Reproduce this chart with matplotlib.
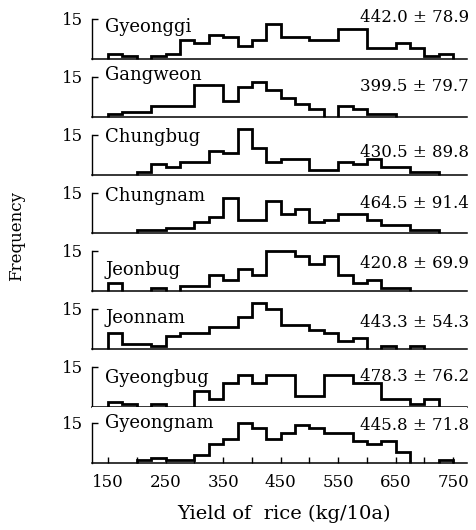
import numpy as np
import matplotlib
matplotlib.use("Agg")
import matplotlib.pyplot as plt

plt.rcParams['font.family'] = ['DejaVu Serif']

# ---- data ----
regions = ["Gyeonggi", "Gangweon", "Chungbug", "Chungnam",
           "Jeonbug", "Jeonnam", "Gyeongbug", "Gyeongnam"]
means = [442.0, 399.5, 430.5, 464.5, 420.8, 443.3, 478.3, 445.8]
sds = [78.9, 79.7, 89.8, 91.4, 69.9, 54.3, 76.2, 71.8]

bin_edges = [150, 175, 200, 225, 250, 275, 300, 325, 350, 375, 400, 425, 450,
             475, 500, 525, 550, 575, 600, 625, 650, 675, 700, 725, 750, 775]

gyeonggi = [2, 1, 0, 1, 2, 7, 6, 9, 8, 5, 7, 13, 8, 8, 7, 7, 11, 11, 4, 4, 6, 4, 1, 2, 0]
gangweon = [1, 2, 2, 4, 4, 4, 12, 12, 6, 11, 13, 10, 7, 5, 3, 0, 4, 3, 1, 1, 0, 0, 0, 0, 0]
chungbug = [0, 0, 1, 4, 3, 5, 5, 9, 8, 17, 10, 5, 6, 6, 2, 2, 5, 4, 6, 3, 3, 1, 1, 0, 0]
chungnam = [0, 0, 1, 1, 2, 2, 4, 6, 13, 5, 5, 12, 7, 9, 4, 5, 7, 7, 5, 3, 3, 1, 1, 0, 0]
jeonbug = [3, 0, 0, 1, 0, 2, 2, 6, 4, 8, 6, 15, 15, 13, 10, 13, 6, 3, 4, 1, 1, 0, 0, 0, 0]
jeonnam = [6, 2, 2, 1, 5, 6, 6, 8, 8, 12, 17, 15, 9, 9, 7, 6, 3, 4, 0, 1, 0, 1, 0, 0, 0]
gyeongbug = [2, 1, 0, 1, 0, 0, 6, 3, 9, 12, 9, 12, 12, 4, 4, 12, 12, 9, 9, 3, 3, 1, 3, 0, 0]
gyeongnam = [0, 0, 1, 2, 1, 1, 3, 7, 9, 15, 13, 9, 11, 14, 13, 11, 11, 8, 7, 8, 4, 0, 0, 1, 0]

series = [gyeonggi, gangweon, chungbug, chungnam, jeonbug, jeonnam, gyeongbug, gyeongnam]

major_ticks = [150, 250, 350, 450, 550, 650, 750]
minor_ticks = [200, 300, 400, 500, 600, 700]

# ---- layout (pixels) ----
W, H = 476, 530
fig = plt.figure(figsize=(W / 100, H / 100), dpi=100)

base_y = [59, 117, 175, 233, 291, 349, 407, 463]      # panel baselines from top
label_off = [27, 37, 33, 32, 16, 26, 24, 35]           # region text baseline above panel baseline
stat_off = [37, 26, 18, 25, 23, 22, 26, 33]
x_left, x_right = 92, 467
slot_h = 56
px_per_count = 2.7

for i, (name, counts) in enumerate(zip(regions, series)):
    yb = base_y[i]
    ax = fig.add_axes([x_left / W, 1 - yb / H, (x_right - x_left) / W, slot_h / H])
    ax.set_xlim(122, 774)
    ax.set_ylim(0, slot_h / px_per_count)
    for s in ['top', 'right']:
        ax.spines[s].set_visible(False)
    ax.spines['left'].set_bounds(0, 15)
    ax.spines['left'].set_linewidth(1.0)
    ax.spines['bottom'].set_linewidth(1.1)
    ax.set_yticks([15])
    ax.set_yticklabels(['15'])
    ax.tick_params(axis='y', direction='in', length=4, width=1.0, pad=6.5, labelsize=12)

    # draw contiguous non-zero runs as step outlines
    c = np.asarray(counts)
    n = len(c)
    j = 0
    while j < n:
        if c[j] > 0:
            k = j
            while k < n and c[k] > 0:
                k += 1
            ax.stairs(c[j:k], bin_edges[j:k + 1], baseline=0, color='black',
                      linewidth=2.0, joinstyle='miter', clip_on=False)
            j = k
        else:
            j += 1

    if i == len(regions) - 1:
        ax.set_xticks(major_ticks)
        ax.set_xticks(minor_ticks, minor=True)
        ax.set_xticklabels([str(t) for t in major_ticks])
        ax.tick_params(axis='x', which='both', direction='in', length=4, width=1.0,
                       pad=8, labelsize=12)
    else:
        ax.set_xticks([])

    fig.text(105 / W, 1 - (yb - label_off[i]) / H, name, fontsize=13,
             ha='left', va='baseline')
    fig.text(469 / W, 1 - (yb - stat_off[i]) / H,
             f"{means[i]:.1f} \u00b1 {sds[i]:.1f}", fontsize=12,
             ha='right', va='baseline')

fig.text(17 / W, 1 - 236 / H, "Frequency", rotation=90, fontsize=12,
         ha='center', va='center')
fig.text(284 / W, 1 - 514 / H, "Yield of  rice (kg/10a)", fontsize=14,
         ha='center', va='center')

fig.savefig("out.png", dpi=100)
